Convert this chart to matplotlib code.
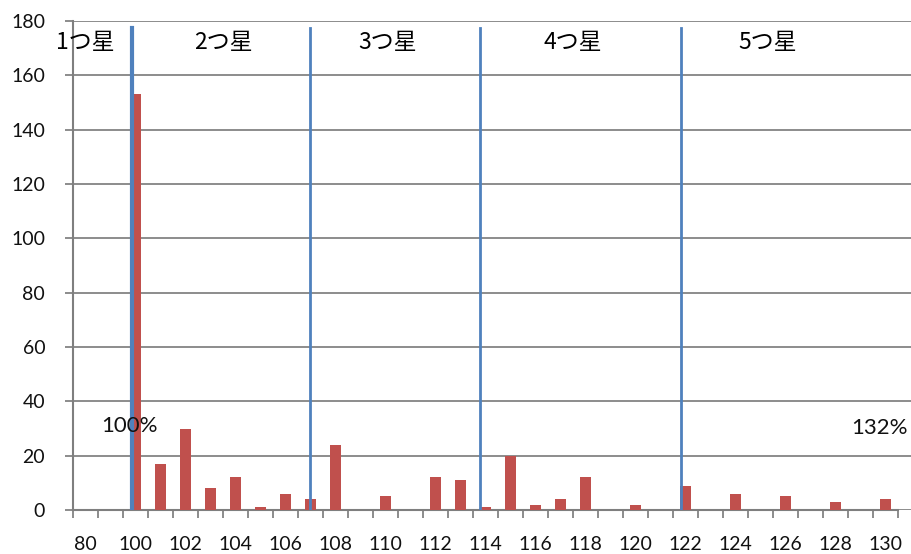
"""
plot.py
Histogram of percent values with star-rating bands (1つ星 .. 5つ星).
"""

import matplotlib
matplotlib.use("Agg")
import matplotlib.pyplot as plt
import numpy as np

# =============================================================================
# Data
# =============================================================================

bins   = ["80", "99"] + [str(v) for v in range(100, 131)]
counts = [0, 0,
          153, 17, 30, 8, 12, 1, 6, 4, 24, 0,
          5, 0, 12, 11, 1, 20, 2, 4, 12, 0,
          2, 0, 9, 0, 6, 0, 5, 0, 3, 0, 4]

band_edges  = [99.85, 107.0, 113.8, 121.83]      # blue separators (percent)
band_labels = ["1つ星", "2つ星", "3つ星", "4つ星", "5つ星"]
band_label_at = [80, 103.5, 110.1, 117.5, 125.3]
edge_notes  = ["100%", "132%"]
edge_note_at = [99.75, 129.74]

RED  = "#C0504D"
BLUE = "#4F81BD"
GRID = "#8C8C8C"


def pos(v):
    """percent value -> category position (category '100' is index 2)"""
    return v - 100 + bins.index("100")


def main():
    plt.rcParams["font.family"] = ["Lato", "Noto Sans CJK JP", "DejaVu Sans"]

    fig = plt.figure(figsize=(9.12, 5.54), dpi=100)
    ax = fig.add_axes([73 / 912, 44 / 554, 1 - 73 / 912, 489 / 554])

    x = np.arange(len(bins))
    ax.bar(x, counts, width=0.42, color=RED, zorder=3)

    # star band separators
    for i, e in enumerate(band_edges):
        ax.axvline(pos(e), ymin=0, ymax=0.985, color=BLUE,
                   linewidth=3 if i == 0 else 2, zorder=4)

    # band labels
    for lab, v in zip(band_labels, band_label_at):
        xx = 0 if v == 80 else pos(v)
        ax.text(xx, 172, lab, ha="center", va="center", fontsize=16.5,
                family=["Noto Sans CJK JP", "DejaVu Sans"], color="black",
                zorder=5)

    ax.text(pos(edge_note_at[0]), 30.9, edge_notes[0], ha="center",
            va="center", fontsize=16, color="#111111", zorder=5)
    ax.text(pos(edge_note_at[1]), 30.1, edge_notes[1], ha="center",
            va="center", fontsize=16, color="#111111", zorder=5)

    # axes
    ax.set_ylim(0, 180)
    ax.set_yticks(np.arange(0, 181, 20))
    ax.set_xlim(-0.5, len(bins) - 0.5 + 0.56)
    ax.set_xticks(x[::2])
    ax.set_xticklabels(bins[::2])
    ax.set_xticks(np.arange(-0.5, len(bins), 1), minor=True)

    ax.yaxis.grid(True, color=GRID, linewidth=1.4, zorder=0)
    ax.set_axisbelow(True)

    for s in ["top", "right"]:
        ax.spines[s].set_visible(False)
    ax.spines["left"].set_color("#7F7F7F")
    ax.spines["left"].set_linewidth(1.5)
    ax.spines["bottom"].set_color("#7F7F7F")
    ax.spines["bottom"].set_linewidth(1.5)
    ax.spines["bottom"].set_bounds(-0.5, len(bins) - 0.5)

    ax.tick_params(axis="y", length=6, width=1.4, color=GRID, pad=14,
                   labelsize=14, labelcolor="#111111")
    ax.tick_params(axis="x", which="major", length=0, pad=19,
                   labelsize=14, labelcolor="#111111")
    ax.tick_params(axis="x", which="minor", length=6, width=1.4, color=GRID)

    fig.savefig("out.png", dpi=100)
    plt.close(fig)


if __name__ == "__main__":
    main()
